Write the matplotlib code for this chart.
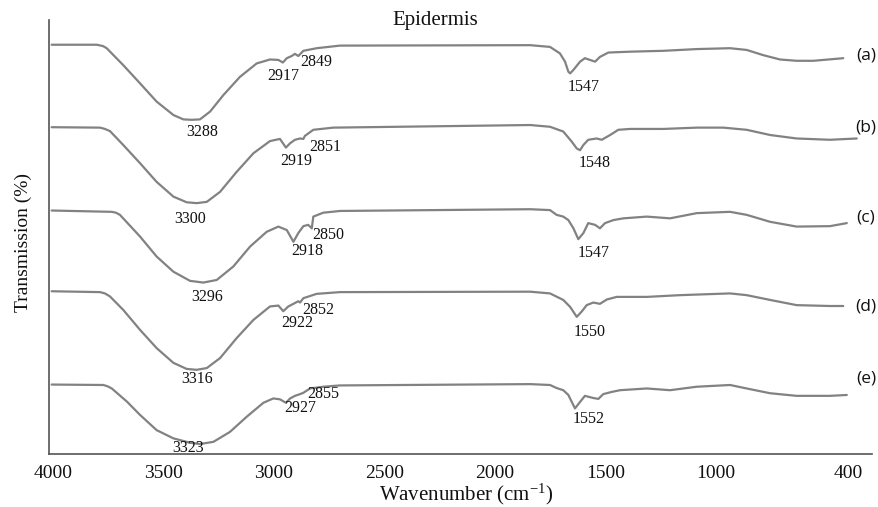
import matplotlib
matplotlib.use("Agg")
import matplotlib.pyplot as plt

# ---- data (wavenumber in cm-1, transmission in arbitrary % units incl. stacking offset)
wn_a = [4005, 3801, 3773, 3756, 3681, 3605, 3530, 3454, 3409, 3371, 3334, 3288, 3228, 3153, 3077, 3017, 2979,
        2959, 2941, 2919, 2904, 2889, 2866, 2806, 2700, 1840, 1750, 1705, 1682, 1667, 1659, 1644, 1614,
        1592, 1569, 1546, 1524, 1486, 1388, 1237, 1086, 935, 860, 785, 709, 634, 558, 423]
tr_a = [94.3, 94.3, 94.0, 93.5, 89.6, 85.4, 81.2, 78.1, 77.1, 77.0, 77.1, 78.9, 82.7, 86.9, 90.0, 90.9, 90.8,
        90.2, 91.2, 91.7, 92.2, 91.7, 92.9, 93.5, 94.1, 94.2, 93.8, 92.3, 90.4, 88.1, 87.7, 88.5, 90.4,
        91.2, 90.8, 90.4, 91.5, 92.5, 92.7, 92.9, 93.3, 93.5, 93.1, 91.9, 90.9, 90.6, 90.6, 91.2]

wn_b = [4005, 3786, 3764, 3741, 3681, 3605, 3530, 3454, 3394, 3349, 3303, 3243, 3168, 3092, 3017, 2972, 2945,
        2926, 2904, 2881, 2866, 2859, 2821, 2731, 1840, 1750, 1690, 1652, 1629, 1614, 1599, 1577, 1539,
        1516, 1478, 1441, 1388, 1237, 1086, 966, 860, 754, 634, 483, 362]
tr_b = [75.3, 75.2, 74.9, 74.4, 71.2, 67.0, 62.7, 59.3, 58.0, 57.8, 58.1, 60.4, 65.0, 69.3, 72.1, 72.6, 70.6,
        71.6, 72.4, 72.7, 72.6, 73.3, 74.7, 75.2, 75.8, 75.4, 74.3, 72.0, 70.4, 70.0, 71.2, 72.4, 72.7,
        72.4, 73.5, 74.7, 74.9, 74.9, 75.2, 75.2, 74.7, 73.5, 72.7, 72.4, 72.7]

wn_c = [4005, 3733, 3714, 3696, 3605, 3530, 3454, 3379, 3319, 3258, 3183, 3107, 3032, 2979, 2941, 2911, 2889,
        2866, 2844, 2828, 2821, 2776, 2700, 1840, 1750, 1720, 1690, 1667, 1644, 1622, 1599, 1577, 1546,
        1524, 1501, 1463, 1418, 1312, 1207, 1086, 935, 860, 754, 634, 483, 407]
tr_c = [56.1, 55.8, 55.6, 55.1, 50.1, 45.5, 42.0, 39.9, 39.5, 40.1, 43.2, 47.8, 51.2, 52.4, 51.6, 48.9, 50.9,
        52.5, 52.8, 52.0, 54.7, 55.6, 56.0, 56.4, 56.2, 55.1, 54.7, 53.9, 52.0, 49.5, 50.9, 53.2, 52.8,
        52.0, 53.2, 53.9, 54.3, 54.7, 54.3, 55.5, 55.8, 55.1, 53.5, 52.4, 52.5, 53.2]

wn_d = [4005, 3786, 3764, 3741, 3681, 3605, 3530, 3454, 3394, 3349, 3303, 3243, 3168, 3092, 3017, 2979, 2957,
        2934, 2911, 2889, 2881, 2866, 2806, 2700, 1840, 1750, 1690, 1659, 1629, 1607, 1584, 1554, 1524,
        1493, 1448, 1312, 1162, 935, 860, 754, 634, 483, 423]
tr_d = [37.5, 37.3, 37.0, 36.3, 33.2, 28.6, 24.4, 21.0, 19.6, 19.4, 19.8, 22.1, 26.7, 30.9, 34.0, 34.2, 32.9,
        34.0, 34.6, 35.2, 34.9, 35.9, 36.9, 37.3, 37.4, 37.0, 35.5, 33.9, 31.6, 32.8, 34.3, 34.9, 34.6,
        35.6, 36.2, 36.2, 36.6, 37.0, 36.6, 35.5, 34.3, 34.1, 34.1]

wn_e = [4005, 3771, 3752, 3733, 3665, 3605, 3530, 3454, 3379, 3334, 3273, 3198, 3122, 3047, 3002, 2972, 2945,
        2926, 2904, 2881, 2866, 2836, 2776, 2700, 1840, 1750, 1720, 1690, 1667, 1637, 1614, 1592, 1554,
        1531, 1509, 1471, 1433, 1312, 1207, 1086, 935, 860, 754, 634, 483, 407]
tr_e = [16.0, 15.9, 15.6, 15.1, 12.1, 9.0, 5.5, 3.6, 2.6, 2.3, 2.8, 5.1, 8.6, 11.8, 12.8, 12.6, 11.8,
        12.8, 13.4, 13.8, 14.1, 15.1, 15.5, 15.8, 16.1, 15.9, 15.2, 14.7, 13.6, 10.5, 12.0, 13.4, 12.9,
        12.7, 13.8, 14.3, 14.7, 15.1, 14.7, 15.5, 15.9, 15.1, 14.0, 13.4, 13.4, 13.6]

series_labels = ["(a)", "(b)", "(c)", "(d)", "(e)"]
peaks_a = ["3288", "2917", "2849", "1547"]
peaks_b = ["3300", "2919", "2851", "1548"]
peaks_c = ["3296", "2918", "2850", "1547"]
peaks_d = ["3316", "2922", "2852", "1550"]
peaks_e = ["3323", "2927", "2855", "1552"]
x_ticks = [4000, 3500, 3000, 2500, 2000, 1500, 1000, 400]

# ---- layout (label placements)
peak_pos = [
    [(3326, 74.3), (2957, 87.1), (2806, 90.4), (1599, 84.6)],
    [(3379, 54.1), (2896, 67.6), (2768, 70.8), (1546, 67.0)],
    [(3301, 36.2), (2848, 46.8), (2753, 50.5), (1554, 46.2)],
    [(3346, 17.3), (2893, 30.1), (2798, 33.2), (1572, 28.2)],
    [(3387, 1.3), (2881, 10.5), (2776, 13.8), (1577, 8.0)],
]
series_label_y = [91.9, 75.3, 54.6, 33.9, 17.3]

plt.rcParams['font.family'] = ['Liberation Serif', 'DejaVu Serif']
plt.rcParams['mathtext.fontset'] = 'custom'
plt.rcParams['mathtext.rm'] = 'Liberation Serif'
plt.rcParams['mathtext.it'] = 'Liberation Serif:italic'

fig = plt.figure(figsize=(8.79, 5.07), dpi=100)
ax = fig.add_axes([49 / 879, 53 / 507, 823 / 879, 434 / 507])

curves = [(wn_a, tr_a), (wn_b, tr_b), (wn_c, tr_c), (wn_d, tr_d), (wn_e, tr_e)]
peaks = [peaks_a, peaks_b, peaks_c, peaks_d, peaks_e]
line_color = '#828282'
for (wn, tr), plist, ppos, lab, ly in zip(curves, peaks, peak_pos, series_labels, series_label_y):
    ax.plot(wn, tr, color=line_color, lw=1.6, solid_joinstyle='round', solid_capstyle='round')
    for txt, (px, py) in zip(plist, ppos):
        ax.text(px, py, txt, ha='center', va='center', fontsize=11.5, color='#111111', clip_on=False)
    ax.text(320, ly, lab, ha='center', va='center', fontsize=12.5, color='#111111',
            family=['Open Sans', 'DejaVu Sans'], clip_on=False)

ax.set_xlim(4017, 293)
ax.set_ylim(0, 100)
ax.set_xticks(x_ticks)
ax.set_xticklabels([str(t) for t in x_ticks])
ax.set_yticks([])
ax.tick_params(axis='x', length=0, pad=8, labelsize=14, colors='#111111')
for s in ['top', 'right']:
    ax.spines[s].set_visible(False)
for s in ['left', 'bottom']:
    ax.spines[s].set_color('#555555')
    ax.spines[s].set_linewidth(1.2)

ax.text(2270, 99.8, 'Epidermis', ha='center', va='center', fontsize=15, color='#111111', clip_on=False)
fig.text(466 / 879, 1 - 494 / 507, 'Wavenumber (cm$^{-1}$)', ha='center', va='center',
         fontsize=15, color='#111111')
fig.text(23 / 879, 1 - 243 / 507, 'Transmission (%)', ha='center', va='center', rotation=90,
         fontsize=14, color='#111111')

fig.savefig('out.png', dpi=100)
